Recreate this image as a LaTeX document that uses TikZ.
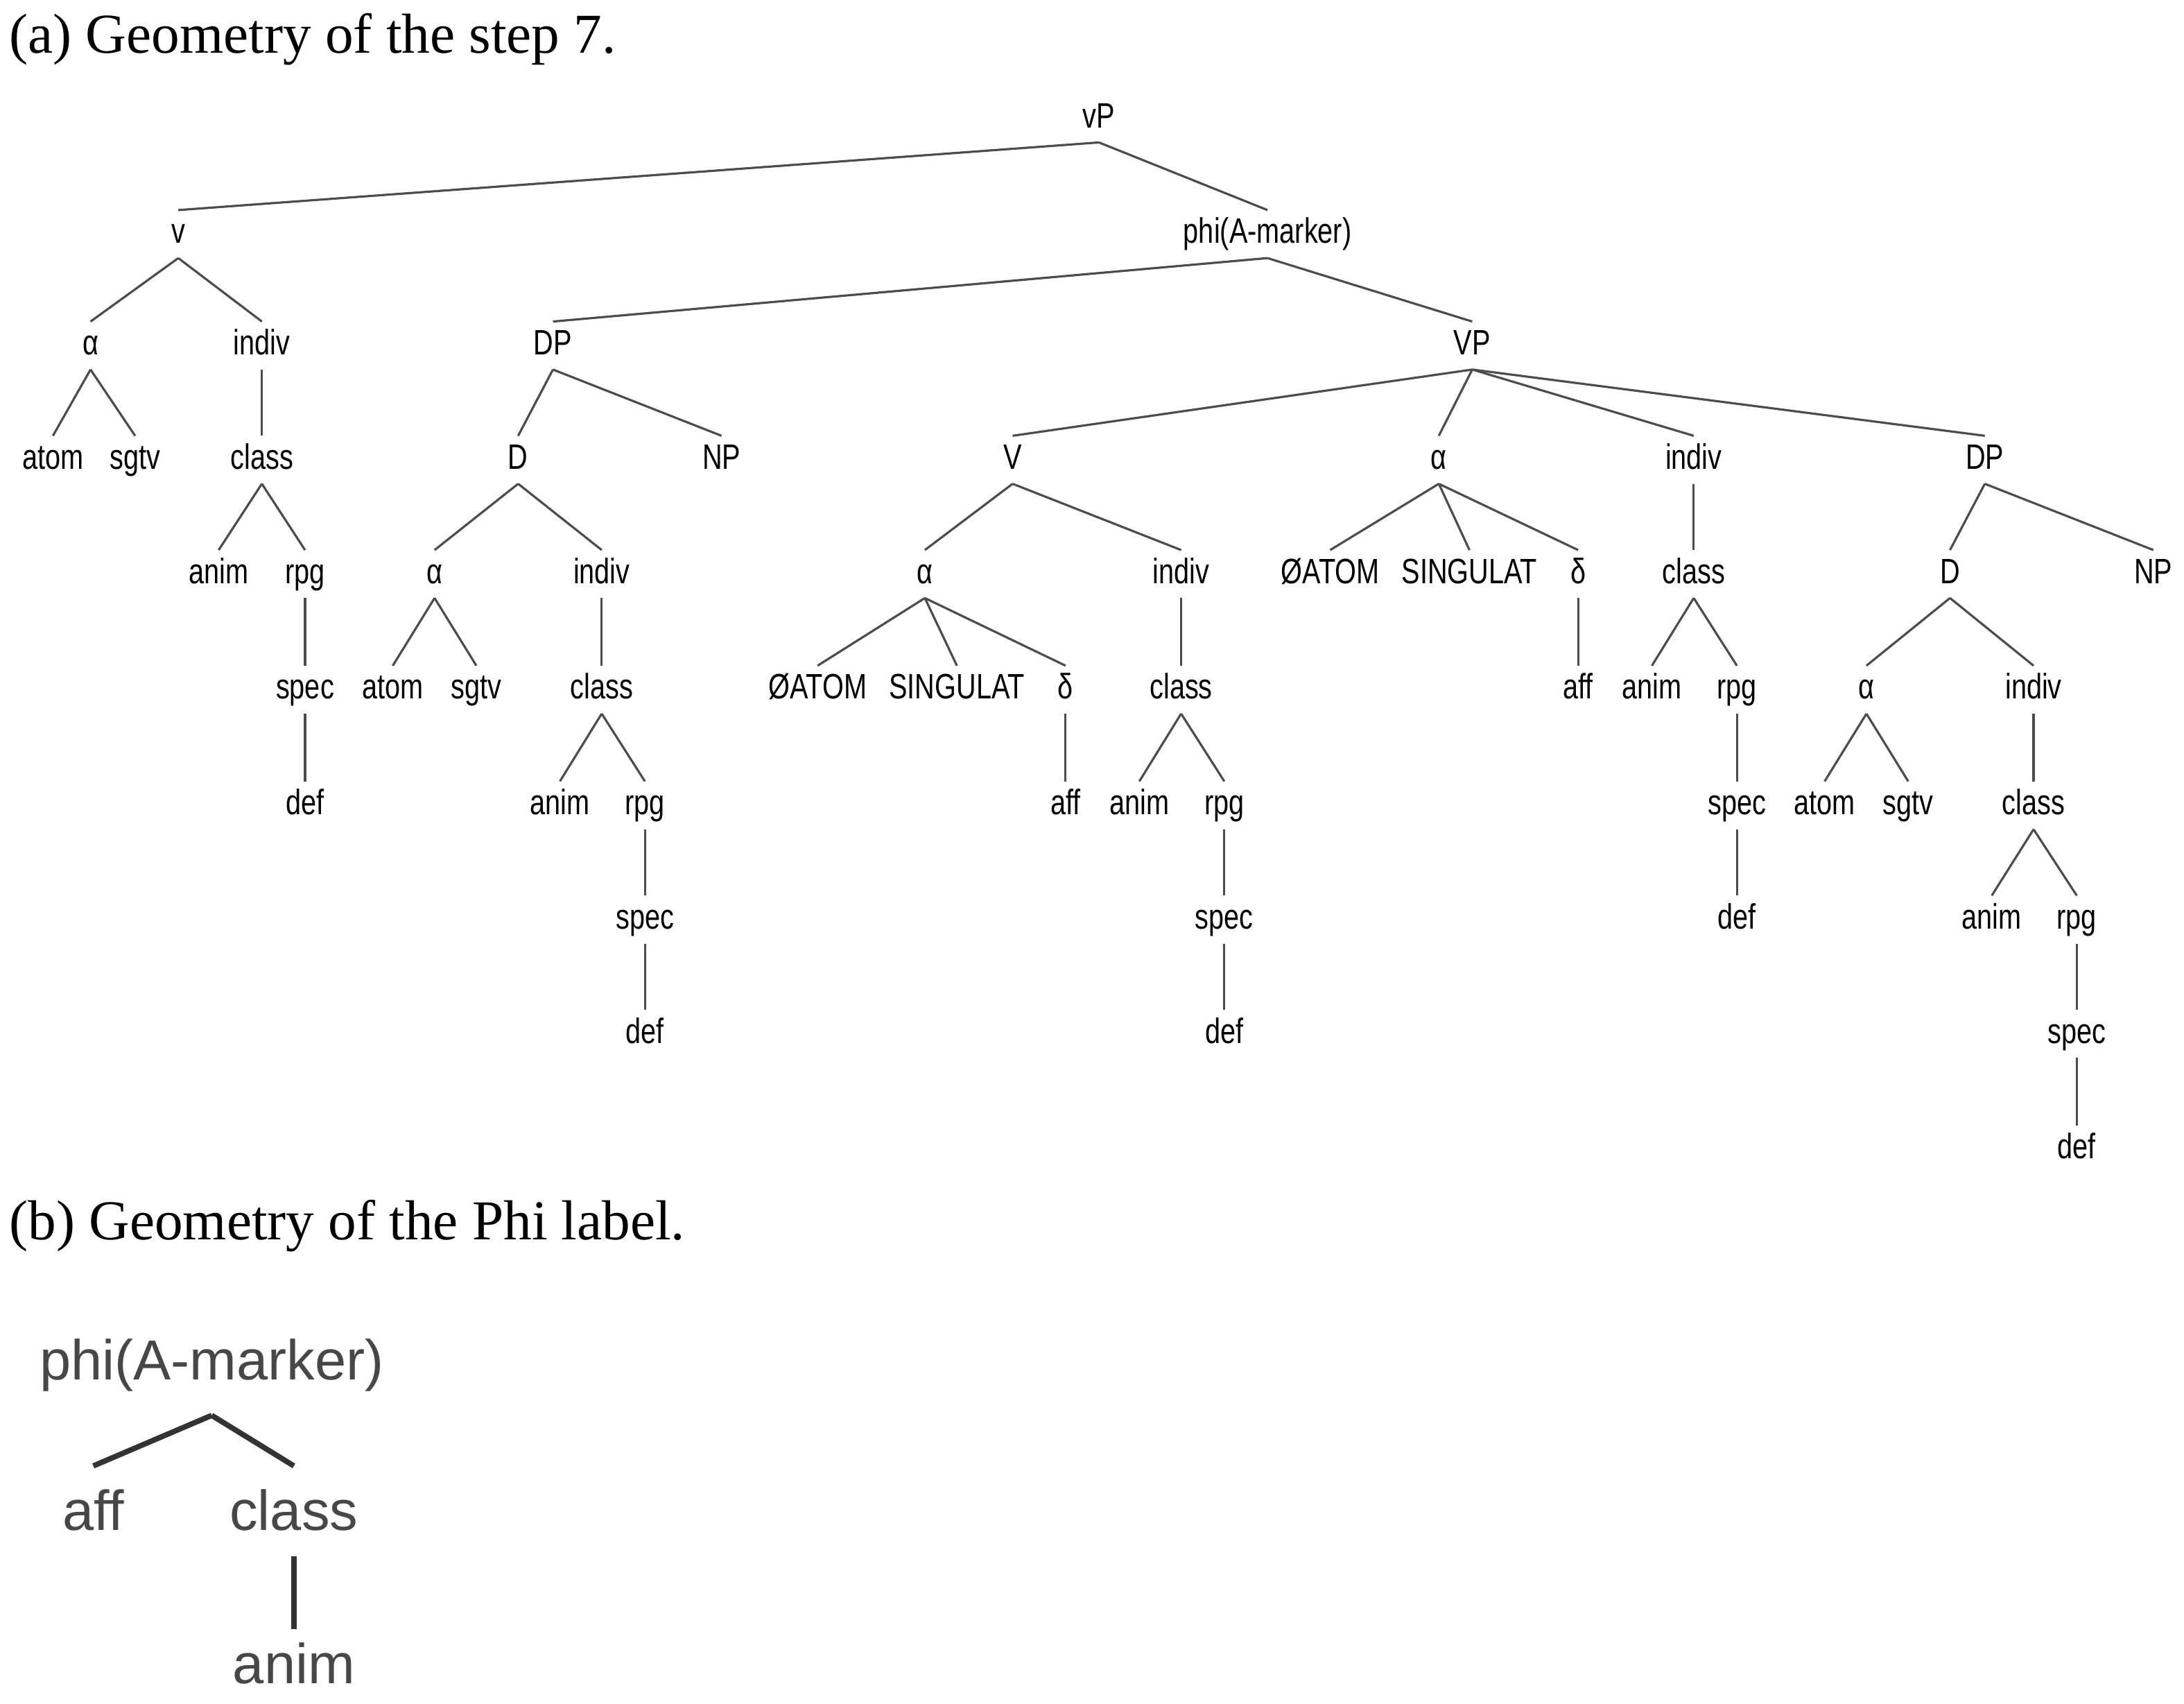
\documentclass[tikz,border=0pt]{standalone}
\usepackage{fontspec}
\setmainfont{Liberation Serif}
\newfontfamily\treef{Liberation Sans}[FakeStretch=0.78]
\newfontfamily\phifont{Liberation Sans}
\begin{document}
\begin{tikzpicture}[x=0.01cm,y=-0.01cm,
  t/.style={font=\treef\fontsize{7.2}{8}\selectfont,inner sep=1.2pt,text height=5.4pt,text depth=1.6pt},
  b/.style={font=\phifont\fontsize{11.5}{13}\selectfont,text=black!72,inner sep=1.5pt,text height=8.5pt,text depth=2.5pt},
  e/.style={draw=black!70,line width=0.45pt},
  eb/.style={draw=black!80,line width=1.1pt},
  captxt/.style={font=\fontsize{11.5}{13}\selectfont,anchor=west,inner sep=0pt}]
\useasboundingbox (0,0) rectangle (1568,1223);
\node[captxt] (ca) at (6,28) {(a) Geometry of the step 7.};
\node[captxt] (cb) at (6,880) {(b) Geometry of the Phi label.};
\foreach \n/\x/\y/\l in {
 vP/789/85/vP, v/128/168/v, phi/910/168/phi(A-marker),
 a1/65/248/α, i1/188/248/indiv, at1/38/330/atom, sg1/97/330/sgtv, c1/188/330/class,
 an1/157/412/anim, r1/219/412/rpg, s1/219/495/spec, d1/219/578/def,
 DP/397/248/DP, VP/1057/248/VP, D/372/330/D, NP/518/330/NP,
 a2/312/412/α, i2/432/412/indiv, at2/282/495/atom, sg2/342/495/sgtv, c2/432/495/class,
 an2/402/578/anim, r2/463/578/rpg, s2/463/660/spec, d2/463/742/def,
 V/727/330/V, a3/1033/330/α, i3/1216/330/indiv, DPb/1425/330/DP,
 a4/664/412/α, i4/848/412/indiv, oa4/587/495/ØATOM, si4/687/495/SINGULAT, de4/765/495/δ, af4/765/578/aff,
 c4/848/495/class, an4/818/578/anim, r4/879/578/rpg, s4/879/660/spec, d4/879/742/def,
 oa3/955/412/ØATOM, si3/1055/412/SINGULAT, de3/1133/412/δ, af3/1133/495/aff,
 c3/1216/412/class, an3/1186/495/anim, r3/1247/495/rpg, s3/1247/578/spec, d3/1247/660/def,
 Db/1400/412/D, NPb/1546/412/NP, a5/1340/495/α, i5/1460/495/indiv,
 at5/1310/578/atom, sg5/1370/578/sgtv, c5/1460/578/class, an5/1430/660/anim, r5/1491/660/rpg,
 s5/1491/742/spec, d5/1491/825/def}
 \node[t] (\n) at (\x,\y) {\l};
\foreach \p/\c in {vP/v,vP/phi,v/a1,v/i1,a1/at1,a1/sg1,i1/c1,c1/an1,c1/r1,r1/s1,s1/d1,
 phi/DP,phi/VP,DP/D,DP/NP,D/a2,D/i2,a2/at2,a2/sg2,i2/c2,c2/an2,c2/r2,r2/s2,s2/d2,
 VP/V,VP/a3,VP/i3,VP/DPb,V/a4,V/i4,a4/oa4,a4/si4,a4/de4,de4/af4,i4/c4,c4/an4,c4/r4,r4/s4,s4/d4,
 a3/oa3,a3/si3,a3/de3,de3/af3,i3/c3,c3/an3,c3/r3,r3/s3,s3/d3,
 DPb/Db,DPb/NPb,Db/a5,Db/i5,a5/at5,a5/sg5,i5/c5,c5/an5,c5/r5,r5/s5,s5/d5}
 \draw[e] (\p.south) -- (\c.north);
\node[b] (bphi) at (152,980) {phi(A-marker)};
\node[b] (baff) at (67,1088) {aff};
\node[b] (bcl) at (211,1088) {class};
\node[b] (ban) at (211,1198) {anim};
\draw[eb] ([yshift=-3pt]bphi.south) -- ([yshift=3pt]baff.north);
\draw[eb] ([yshift=-3pt]bphi.south) -- ([yshift=3pt]bcl.north);
\draw[eb] ([yshift=-1pt]bcl.south) -- ([yshift=1pt]ban.north);
\end{tikzpicture}
\end{document}
